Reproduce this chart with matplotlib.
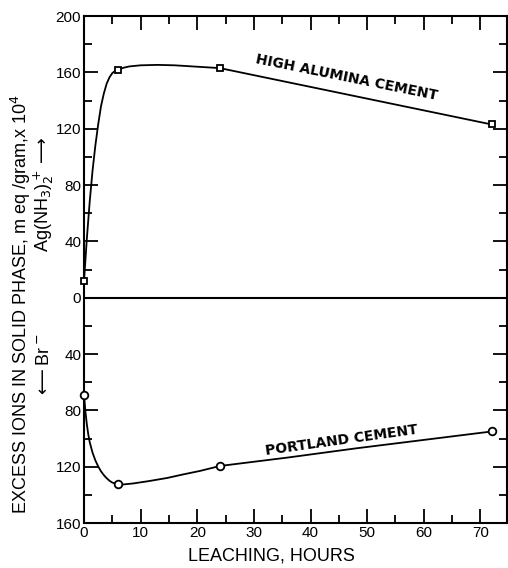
import numpy as np
import matplotlib
matplotlib.use("Agg")
import matplotlib.pyplot as plt
from matplotlib.ticker import MultipleLocator, FixedLocator, FuncFormatter

# measured points (hours, value); Br- excess plotted as negative
alumina_x = [0, 6, 24, 72]
alumina_y = [12, 162, 163, 123]
portland_x = [0, 6, 24, 72]
portland_y = [-69, -132.5, -119.5, -95]

# traced curve paths
alumina_curve_x = [0, 0.5, 1.0, 1.5, 2.0, 2.5, 3.0, 3.5, 4.0, 4.5, 5.0, 5.5, 6, 7, 8, 10, 13, 16, 20, 24, 36, 48, 60, 72]
alumina_curve_y = [12, 42, 68, 90, 108, 123, 136, 145, 152, 156.5, 159.5, 161, 162, 163.3, 164.2, 165, 165.3, 165, 164, 163, 153, 143, 133, 123]
portland_curve_x = [0, 0.25, 0.5, 0.75, 1.0, 1.5, 2.0, 2.5, 3.0, 3.5, 4.0, 4.5, 5.0, 6, 7, 8.7, 11.5, 14.7, 17.5, 20.5, 24, 36, 48, 60, 72]
portland_curve_y = [-69, -81, -90, -97, -102.5, -110, -115.5, -119.8, -123.3, -126, -128.2, -130, -131.3, -132.5, -132.6, -131.9, -130.2, -128, -125.5, -123, -119.5, -113.5, -107, -101, -95]

ytick_vals = [200, 160, 120, 80, 40, 0, -40, -80, -120, -160]
xtick_vals = [0, 10, 20, 30, 40, 50, 60, 70]

plt.rcParams['font.family'] = ['Liberation Sans', 'DejaVu Sans']

fig = plt.figure(figsize=(5.08, 5.68), dpi=100)
ax = fig.add_axes([0.1654, 0.0792, 0.998 - 0.1654, 0.9718 - 0.0792])

ax.plot(alumina_curve_x, alumina_curve_y, color='black', lw=1.3, solid_joinstyle='round')
ax.plot(portland_curve_x, portland_curve_y, color='black', lw=1.3, solid_joinstyle='round')
ax.plot(alumina_x, alumina_y, linestyle='none', marker='s', ms=5, mfc='white', mec='black', mew=1.3, clip_on=False, zorder=5)
ax.plot(portland_x, portland_y, linestyle='none', marker='o', ms=5.5, mfc='white', mec='black', mew=1.3, clip_on=False, zorder=5)
ax.axhline(0, color='black', lw=1.5)

ax.set_xlim(0, 74.7)
ax.set_ylim(-160, 200)

for s in ax.spines.values():
    s.set_linewidth(1.5)

ax.xaxis.set_major_locator(FixedLocator(xtick_vals))
ax.xaxis.set_minor_locator(MultipleLocator(5))
ax.yaxis.set_major_locator(FixedLocator(ytick_vals))
ax.yaxis.set_minor_locator(MultipleLocator(20))
ax.yaxis.set_major_formatter(FuncFormatter(lambda v, p: f"{abs(int(round(v)))}"))
ax.tick_params(which='both', direction='in', top=True, right=True, width=1.3, labelsize=11, pad=2)
ax.tick_params(which='major', length=10)
ax.tick_params(which='minor', length=6)

ax.set_xlabel("LEACHING, HOURS", fontsize=13)
ax.xaxis.set_label_coords(0.442, -0.049)

fig.text(0.042, 0.465, "EXCESS IONS IN SOLID PHASE, m eq /gram,x 10$^4$", rotation=90,
         ha='center', va='center', fontsize=13)
fig.text(0.087, 0.657, r"Ag(NH$_3$)$_2^+$$\longrightarrow$", rotation=90,
         ha='center', va='center', fontsize=13)
fig.text(0.087, 0.356, r"$\longleftarrow$Br$^-$", rotation=90,
         ha='center', va='center', fontsize=13)

ax.text(46.3, 156, "HIGH ALUMINA CEMENT", rotation=-11.5, ha='center', va='center',
        fontsize=10, fontweight='bold', family='DejaVu Sans')
ax.text(45.4, -101, "PORTLAND CEMENT", rotation=8, ha='center', va='center',
        fontsize=10, fontweight='bold', family='DejaVu Sans')

fig.savefig("out.png", dpi=100)
